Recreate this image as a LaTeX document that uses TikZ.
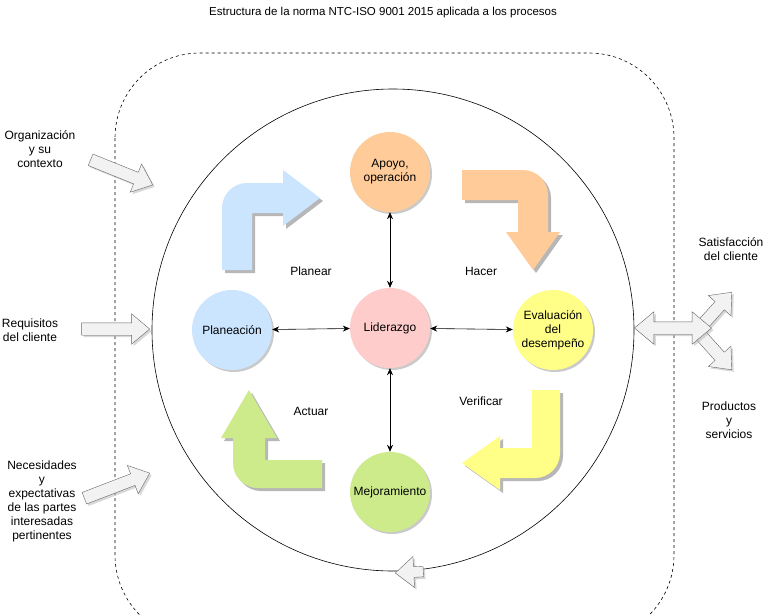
\documentclass[tikz,border=0pt]{standalone}
\usepackage{fontspec}
\setmainfont{Liberation Sans}
\usetikzlibrary{shapes.arrows,shadows,arrows.meta}

\definecolor{azulp}{HTML}{CCE5FF}
\definecolor{naranjap}{HTML}{FFCC99}
\definecolor{amarillop}{HTML}{FFFF88}
\definecolor{rosap}{HTML}{FFCCCC}
\definecolor{verdep}{HTML}{CDEB8B}

\begin{document}
\begin{tikzpicture}[x=1pt,y=1pt,font=\fontsize{12}{14}\selectfont]
	\tikzset{fase/.style={circle, minimum size=80pt, inner sep=0, align=center, fill=#1,
			drop shadow={shadow xshift=2pt, shadow yshift=-2pt, fill=black!35, opacity=0.6}}}
	\tikzset{giro/.style={fill=#1, draw=none,
			drop shadow={shadow xshift=3pt, shadow yshift=-3pt, fill=black!40, opacity=0.7}}}
	\tikzset{bloque/.style={single arrow, draw=black!60, fill=black!5, inner xsep=0, inner ysep=6pt,
			minimum width=30pt, single arrow head extend=9pt, single arrow tip angle=80,
			drop shadow={shadow xshift=2pt, shadow yshift=-2pt, fill=black!30, opacity=0.5}}}
	\tikzset{flecha/.style={{Stealth[length=7pt,width=6pt]}-{Stealth[length=7pt,width=6pt]}, line width=0.6pt}}
	\tikzset{rotulo/.style={align=center}}
	\useasboundingbox (0,0) rectangle (766,-614);

	% Marco y circulo
	\draw [line width=0.6pt, dash pattern=on 3pt off 3pt, rounded corners=85pt] (115,-53) rectangle (674,-640);
	\draw [line width=0.6pt] (393,-330) circle [radius=241];

	\node (titulo) at (383,-13) {\fontsize{11.5}{14}\selectfont Estructura de la norma NTC-ISO 9001 2015 aplicada a los procesos};

	% Flechas curvas del ciclo
	\fill [giro=azulp] (222,-270) -- (222,-208) arc [start angle=180, end angle=90, radius=25]
		-- (283,-183) -- (283,-170) -- (320,-198) -- (283,-226) -- (283,-213) -- (252,-213) -- (252,-270) -- cycle;
	\fill [giro=naranjap] (462,-200) -- (462,-170) -- (523,-170) arc [start angle=90, end angle=0, radius=25]
		-- (548,-232) -- (560,-232) -- (533,-270) -- (506,-232) -- (518,-232) -- (518,-200) -- cycle;
	\fill [giro=amarillop] (532,-390) -- (560,-390) -- (560,-453) arc [start angle=0, end angle=-90, radius=25]
		-- (500,-478) -- (500,-490) -- (462,-463) -- (500,-436) -- (500,-448) -- (532,-448) -- cycle;
	\fill [giro=verdep] (322,-460) -- (322,-488) -- (258,-488) arc [start angle=270, end angle=180, radius=25]
		-- (233,-438) -- (221,-438) -- (249,-390) -- (277,-438) -- (265,-438) -- (265,-460) -- cycle;

	% Fases
	\node[fase=naranjap] (apoyo) at (390,-172) {Apoyo,\\operación};
	\node[fase=rosap] (liderazgo) at (390,-328) {Liderazgo};
	\node[fase=azulp] (planeacion) at (232,-330) {Planeación};
	\node[fase=amarillop] (evaluacion) at (553,-330) {Evaluación\\del\\desempeño};
	\node[fase=verdep] (mejora) at (390,-492) {Mejoramiento};

	\draw [flecha] (liderazgo) -- (apoyo);
	\draw [flecha] (liderazgo) -- (planeacion);
	\draw [flecha] (liderazgo) -- (evaluacion);
	\draw [flecha] (liderazgo) -- (mejora);

	\node (planear) at (311,-271) {Planear};
	\node (hacer) at (481,-271) {Hacer};
	\node (actuar) at (311,-411) {Actuar};
	\node (verificar) at (481,-401) {Verificar};

	% Entradas
	\node[rotulo] (contexto) at (40,-149) {Organización\\y su\\contexto};
	\node[rotulo] (requisitos) at (30,-330) {Requisitos\\del cliente};
	\node[rotulo] (partes) at (42,-501) {Necesidades\\y\\expectativas\\de las partes\\interesadas\\pertinentes};
	\node[bloque, minimum height=67pt, rotate=-22, anchor=tip] (fcontexto) at (153,-185) {};
	\node[bloque, minimum height=68pt, anchor=tip] (frequisitos) at (150,-329) {};
	\node[bloque, minimum height=70pt, rotate=21, anchor=tip] (fpartes) at (150,-473) {};

	% Salidas
	\node[rotulo] (satisfaccion) at (731,-249) {Satisfacción\\del cliente};
	\node[rotulo] (productos) at (729,-420) {Productos\\y\\servicios};
	\node[bloque, minimum height=50pt, rotate=48, anchor=tip] (fsatis) at (732,-292) {};
	\node[bloque, minimum height=50pt, rotate=-48, anchor=tip] (fprod) at (732,-370) {};
	\node[double arrow, draw=black!60, fill=black!5, inner xsep=0, inner ysep=6pt, minimum width=32pt,
		minimum height=77pt, double arrow head extend=10pt, double arrow tip angle=80,
		drop shadow={shadow xshift=2pt, shadow yshift=-2pt, fill=black!30, opacity=0.5}] (fsalida) at (673,-328) {};

	% Retorno
	\node[bloque, minimum height=28pt, inner ysep=5pt, minimum width=31pt, single arrow head extend=10pt, rotate=183, anchor=tip] (fretorno) at (395,-573) {};
\end{tikzpicture}
\end{document}
